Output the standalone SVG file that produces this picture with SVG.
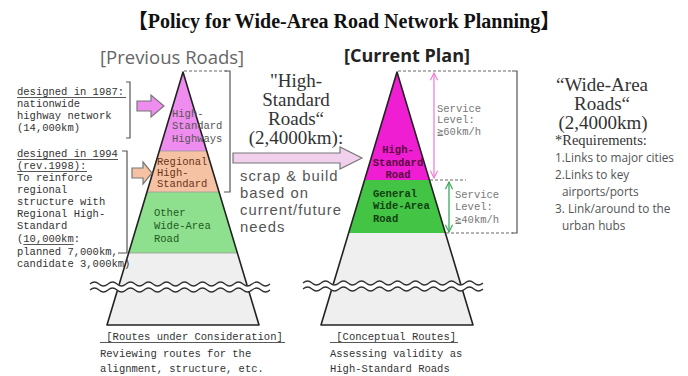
<svg xmlns="http://www.w3.org/2000/svg" width="688" height="376" viewBox="0 0 688 376">
<style>
.mono{font-family:"Liberation Mono","DejaVu Sans Mono","Noto Sans CJK JP",monospace;font-size:10.5px}
.desc{fill:#333}
.ser{font-family:"Liberation Serif","Noto Serif CJK JP","Noto Sans CJK JP",serif;fill:#333}
.sans{font-family:"Liberation Sans","Open Sans",sans-serif;fill:#555}
.outline{fill:none;stroke:#222;stroke-width:1.6;stroke-linejoin:round}
.brk{fill:none;stroke:#555;stroke-width:1.2}
.dash{fill:none;stroke:#666;stroke-width:1;stroke-dasharray:3 2}
.ul{stroke:#444;stroke-width:0.9}
.arrowshape{stroke:#777;stroke-width:1.2}
.wave{fill:none;stroke:#333;stroke-width:1.2}
.waveband{fill:none;stroke:#fff;stroke-width:6}
</style>
<defs>
<path id="wv" d="M0 0 Q4.5 -4 9 0 T18 0 T27 0 T36 0 T45 0 T54 0 T63 0 T72 0 T81 0 T90 0 T99 0 T108 0 T117 0 T126 0 T135 0 T144 0 T153 0 T162 0 T171 0 T180 0"/>
<marker id="mp" viewBox="0 0 10 10" refX="9" refY="5" markerWidth="9" markerHeight="9" markerUnits="userSpaceOnUse" orient="auto-start-reverse">
<path d="M1 1 L9 5 L1 9" fill="none" stroke="#f27fd6" stroke-width="1.3"/>
</marker>
<marker id="mg" viewBox="0 0 10 10" refX="9" refY="5" markerWidth="9" markerHeight="9" markerUnits="userSpaceOnUse" orient="auto-start-reverse">
<path d="M1 1 L9 5 L1 9" fill="none" stroke="#3aa85a" stroke-width="1.3"/>
</marker>
</defs>
<rect width="688" height="376" fill="#fff"/>

<g id="title">
<text x="344" y="28" text-anchor="middle" font-family="Liberation Serif,'Noto Sans CJK JP',serif" font-weight="bold" font-size="20" fill="#111">【Policy for Wide-Area Road Network Planning】</text>
</g>

<g id="previous-roads">
<text x="100" y="64" font-family="'Open Sans','Liberation Sans',sans-serif" font-size="18.5" fill="#666">[Previous Roads]</text>
<polygon points="183,72 159.3,151 206.7,151" fill="#ef8cef"/>
<polygon points="159.3,151 147,192 219,192 206.7,151" fill="#f5c2a4"/>
<polygon points="147,192 128.7,253 237.3,253 219,192" fill="#8ee08e"/>
<polygon points="128.7,253 107,325 259,325 237.3,253" fill="#efefef"/>
<line x1="159.3" y1="151" x2="206.7" y2="151" stroke="#999" stroke-width="0.8"/>
<line x1="147" y1="192" x2="219" y2="192" stroke="#999" stroke-width="0.8"/>
<line x1="128.7" y1="253" x2="237.3" y2="253" stroke="#999" stroke-width="0.8"/>
<polygon class="outline" points="183,72 107,325 259,325"/>
<g class="mono" fill="#555">
<text x="172" y="117">High-</text>
<text x="172" y="129">Standard</text>
<text x="172" y="142">Highways</text>
</g>
<g class="mono" fill="#6b3518">
<text x="157" y="165">Regional</text>
<text x="157" y="176">High-</text>
<text x="157" y="187">Standard</text>
</g>
<g class="mono" fill="#1d5a1d">
<text x="154" y="216">Other</text>
<text x="154" y="229">Wide-Area</text>
<text x="154" y="242">Road</text>
</g>
<line class="dash" x1="184" y1="71" x2="229" y2="71"/>
<path class="brk" d="M225 71 H230 V192 H224"/>
<use href="#wv" x="90" y="287" class="waveband"/>
<use href="#wv" x="90" y="284" class="wave"/>
<use href="#wv" x="90" y="290" class="wave"/>
</g>

<g id="note-1987">
<g class="mono desc">
<text x="17" y="95">designed in 1987:</text>
<text x="17" y="107">nationwide</text>
<text x="17" y="119">highway network</text>
<text x="17" y="131">(14,000km)</text>
</g>
<line class="ul" x1="17" y1="97.5" x2="126" y2="97.5"/>
<path class="brk" d="M126 82 H130 V138 H126"/>
<polygon class="arrowshape" fill="#ef8cef" points="137,101 151,101 151,95 164,106 151,117 151,111 137,111"/>
</g>

<g id="note-1994">
<g class="mono desc">
<text x="17" y="157">designed in 1994</text>
<text x="17" y="169">(rev.1998):</text>
<text x="17" y="181">To reinforce</text>
<text x="17" y="193">regional</text>
<text x="17" y="205">structure with</text>
<text x="17" y="217">Regional High-</text>
<text x="17" y="229">Standard</text>
<text x="17" y="242">(10,000km:</text>
<text x="17" y="255">planned 7,000km,</text>
<text x="17" y="267">candidate 3,000km)</text>
</g>
<line class="ul" x1="17" y1="159.5" x2="118" y2="159.5"/>
<line class="ul" x1="17" y1="171.5" x2="87" y2="171.5"/>
<line class="ul" x1="23.3" y1="244.5" x2="73.7" y2="244.5"/>
<path class="brk" d="M122 151 H127 V253 H118"/>
<polygon class="arrowshape" fill="#f5c2a4" points="132,168 143,168 143,162 152,173 143,184 143,178 132,178"/>
</g>

<g id="high-standard-roads">
<g class="ser" font-size="19" text-anchor="middle">
<text x="296" y="87">"High-</text>
<text x="296" y="106">Standard</text>
<text x="296" y="125">Roads“</text>
<text x="296" y="144">(2,4000km):</text>
</g>
<polygon class="arrowshape" fill="#f0d0ec" points="233,153 340,153 340,147 362,158 340,169 340,163 233,163"/>
<g class="sans" font-size="14.8" letter-spacing="1">
<text x="240" y="181">scrap &amp; build</text>
<text x="240" y="198">based on</text>
<text x="240" y="215">current/future</text>
<text x="240" y="232">needs</text>
</g>
</g>

<g id="current-plan">
<text x="344" y="62" font-family="'Open Sans','Liberation Sans',sans-serif" font-weight="bold" font-size="18" fill="#222">[Current Plan]</text>
<polygon points="397,72 364.6,180 429.4,180" fill="#f01ed2"/>
<polygon points="364.6,180 348.7,233 445.3,233 429.4,180" fill="#44c444"/>
<polygon points="348.7,233 321,325 473,325 445.3,233" fill="#efefef"/>
<polygon class="outline" points="397,72 321,325 473,325"/>
<g class="mono" font-weight="bold" fill="#5a0a40" text-anchor="middle">
<text x="398" y="153">High-</text>
<text x="398" y="166">Standard</text>
<text x="398" y="178">Road</text>
</g>
<g class="mono" font-weight="bold" fill="#0f3f12">
<text x="373" y="197">General</text>
<text x="373" y="209">Wide-Area</text>
<text x="373" y="222">Road</text>
</g>
<line class="dash" x1="398" y1="71" x2="513" y2="71"/>
<line class="dash" x1="430" y1="180" x2="466" y2="180"/>
<line class="dash" x1="446" y1="233" x2="513" y2="233"/>
<path class="brk" d="M512 71 H517 V233 H512"/>
<line x1="434" y1="73" x2="434" y2="178" stroke="#f27fd6" stroke-width="1.3" marker-start="url(#mp)" marker-end="url(#mp)"/>
<line x1="449" y1="182" x2="449" y2="232" stroke="#3aa85a" stroke-width="1.3" marker-start="url(#mg)" marker-end="url(#mg)"/>
<g class="mono" fill="#777">
<text x="437" y="112">Service</text>
<text x="437" y="123">Level:</text>
<text x="437" y="135">≧60km/h</text>
<text x="455" y="198">Service</text>
<text x="455" y="210">Level:</text>
<text x="455" y="223">≧40km/h</text>
</g>
<use href="#wv" x="303" y="286" class="waveband"/>
<use href="#wv" x="303" y="283" class="wave"/>
<use href="#wv" x="303" y="289" class="wave"/>
</g>

<g id="wide-area-roads">
<g class="ser" font-size="19" text-anchor="middle">
<text x="602" y="91">“Wide-Area</text>
<text x="602" y="110">Roads“</text>
<text x="603" y="129">(2,4000km)</text>
</g>
<text x="555" y="145" class="ser" font-size="14.5">*Requirements:</text>
<g font-family="'Open Sans','Liberation Sans',sans-serif" fill="#555" font-size="11.8">
<text x="555" y="162">1.Links to major cities</text>
<text x="555" y="179">2.Links to key</text>
<text x="562" y="196">airports/ports</text>
<text x="555" y="213">3. Link/around to the</text>
<text x="562" y="230">urban hubs</text>
</g>
</g>

<g id="routes-under-consideration">
<g class="mono desc">
<text x="100" y="340" xml:space="preserve"> [Routes under Consideration]</text>
<text x="100" y="357">Reviewing routes for the</text>
<text x="100" y="372">alignment, structure, etc.</text>
</g>
<line class="ul" x1="100" y1="342.5" x2="285" y2="342.5"/>
</g>

<g id="conceptual-routes">
<g class="mono desc">
<text x="330" y="340" xml:space="preserve"> [Conceptual Routes]</text>
<text x="330" y="357">Assessing validity as</text>
<text x="330" y="372">High-Standard Roads</text>
</g>
<line class="ul" x1="330" y1="342.5" x2="458" y2="342.5"/>
</g>
</svg>
